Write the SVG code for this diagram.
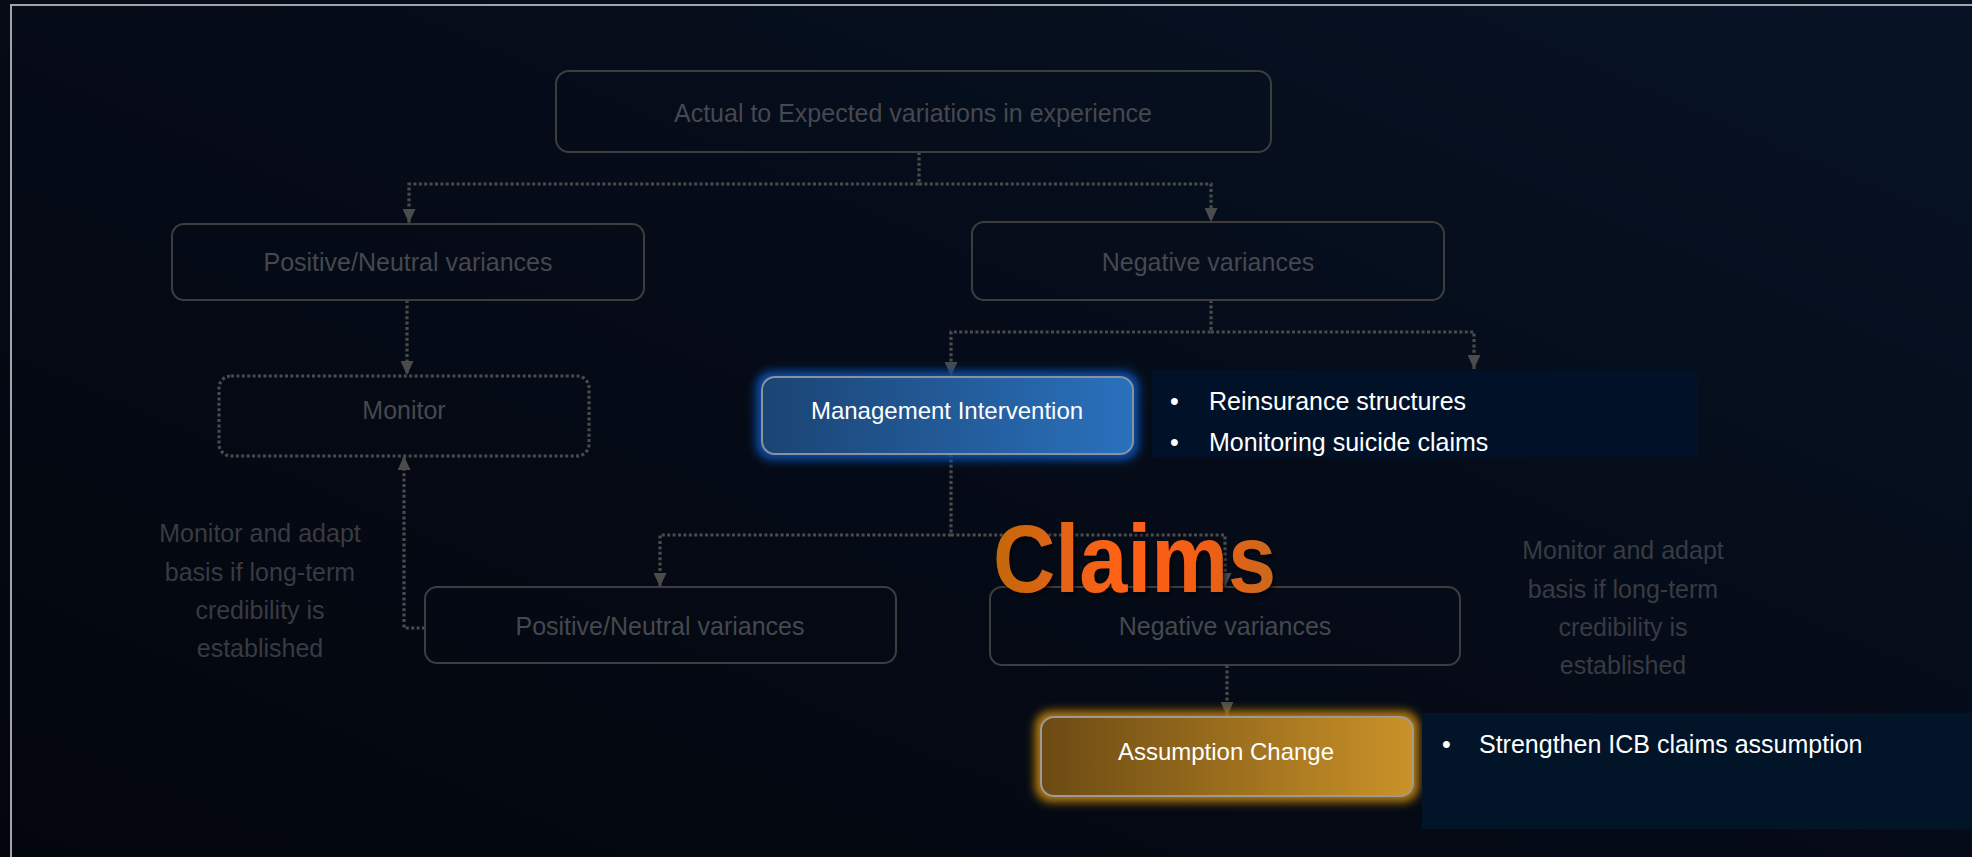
<svg xmlns="http://www.w3.org/2000/svg" width="1972" height="857" viewBox="0 0 1972 857">
<defs>
  <linearGradient id="bg" x1="0" y1="1" x2="1" y2="0">
    <stop offset="0" stop-color="#03060d"/>
    <stop offset="0.5" stop-color="#050b17"/>
    <stop offset="1" stop-color="#071325"/>
  </linearGradient>
  <linearGradient id="blueFill" x1="0" y1="0" x2="1" y2="0">
    <stop offset="0" stop-color="#1b4473"/>
    <stop offset="1" stop-color="#2a71bd"/>
  </linearGradient>
  <linearGradient id="goldFill" x1="0" y1="0" x2="1" y2="0">
    <stop offset="0" stop-color="#6b4a13"/>
    <stop offset="1" stop-color="#cb9228"/>
  </linearGradient>
  <linearGradient id="claimsFill" x1="0" y1="0" x2="1" y2="0">
    <stop offset="0" stop-color="#c2670f"/>
    <stop offset="0.45" stop-color="#ff6216"/>
    <stop offset="0.75" stop-color="#f25d16"/>
    <stop offset="1" stop-color="#c76a1c"/>
  </linearGradient>
  <filter id="glow" x="-20%" y="-60%" width="140%" height="220%">
    <feGaussianBlur stdDeviation="5"/>
  </filter>
  <filter id="shadow" x="-10%" y="-20%" width="120%" height="140%">
    <feDropShadow dx="2" dy="3" stdDeviation="2" flood-color="#000000" flood-opacity="0.7"/>
  </filter>
  <marker id="arrow" viewBox="0 0 14 13" refX="14" refY="6.5" markerWidth="14" markerHeight="13" markerUnits="userSpaceOnUse" orient="auto">
    <path d="M0,0 L14,6.5 L0,13 z" fill="#4b4b4b"/>
  </marker>
  <style>
    .box { fill: none; stroke: #3d3d3f; stroke-width: 2; }
    .dotbox { fill: none; stroke: #4a4a4c; stroke-width: 3.2; stroke-dasharray: 3 2.4; }
    .conn { fill: none; stroke: #4b4b4b; stroke-width: 3.2; stroke-dasharray: 3 2.4; }
    .gl { font-family: "Liberation Sans", Arial, sans-serif; font-size: 25px; fill: #45484e; text-anchor: middle; }
    .note { font-family: "Liberation Sans", Arial, sans-serif; font-size: 25px; fill: #383b42; text-anchor: middle; }
    .wl { font-family: "Liberation Sans", Arial, sans-serif; font-size: 24px; fill: #ffffff; text-anchor: middle; }
    .bt { font-family: "Liberation Sans", Arial, sans-serif; font-size: 25px; fill: #ffffff; }
  </style>
</defs>

<rect x="0" y="0" width="1972" height="857" fill="url(#bg)"/>
<path d="M1972,5 H11 V857" fill="none" stroke="#a2a4a8" stroke-width="2"/>

<g id="connectors">
  <path class="conn" d="M919,152 V184 H409 V223" marker-end="url(#arrow)"/>
  <path class="conn" d="M919,184 H1211 V222" marker-end="url(#arrow)"/>
  <path class="conn" d="M407,300 V375" marker-end="url(#arrow)"/>
  <path class="conn" d="M1211,300 V332 H951 V376" marker-end="url(#arrow)"/>
  <path class="conn" d="M1211,332 H1474 V369" marker-end="url(#arrow)"/>
  <path class="conn" d="M425,628 H404 V456" marker-end="url(#arrow)"/>
  <path class="conn" d="M951,454 V535 H660 V587" marker-end="url(#arrow)"/>
  <path class="conn" d="M951,535 H1225 V587" marker-end="url(#arrow)"/>
  <path class="conn" d="M1227,665 V716" marker-end="url(#arrow)"/>
</g>

<g id="node-actual">
  <rect class="box" x="556" y="71" width="715" height="81" rx="13"/>
  <text class="gl" x="913" y="122">Actual to Expected variations in experience</text>
</g>

<g id="node-pos1">
  <rect class="box" x="172" y="224" width="472" height="76" rx="12"/>
  <text class="gl" x="408" y="271">Positive/Neutral variances</text>
</g>

<g id="node-neg1">
  <rect class="box" x="972" y="222" width="472" height="78" rx="12"/>
  <text class="gl" x="1208" y="271">Negative variances</text>
</g>

<g id="node-monitor">
  <rect class="dotbox" x="219" y="376" width="370" height="80" rx="12"/>
  <text class="gl" x="404" y="419">Monitor</text>
</g>

<g id="node-mgmt">
  <rect x="756" y="371" width="383" height="89" rx="16" fill="#0a4ea8" filter="url(#glow)"/>
  <rect x="762" y="377" width="371" height="77" rx="13" fill="url(#blueFill)" stroke="#8a929c" stroke-width="2"/>
  <text class="wl" x="947" y="419" font-size="25">Management Intervention</text>
</g>

<g id="panel-mgmt">
  <rect x="1152" y="370" width="546" height="87" fill="#011228"/>
  <text class="bt" x="1170" y="410">•</text>
  <text class="bt" x="1209" y="410">Reinsurance structures</text>
  <text class="bt" x="1170" y="451">•</text>
  <text class="bt" x="1209" y="451">Monitoring suicide claims</text>
</g>

<g id="note-left">
  <text class="note" x="260" y="542">Monitor and adapt</text>
  <text class="note" x="260" y="581">basis if long-term</text>
  <text class="note" x="260" y="619">credibility is</text>
  <text class="note" x="260" y="657">established</text>
</g>

<g id="node-pos2">
  <rect class="box" x="425" y="587" width="471" height="76" rx="12"/>
  <text class="gl" x="660" y="635">Positive/Neutral variances</text>
</g>

<g id="node-neg2">
  <rect class="box" x="990" y="587" width="470" height="78" rx="12"/>
  <text class="gl" x="1225" y="635">Negative variances</text>
</g>

<g id="note-right">
  <text class="note" x="1623" y="559">Monitor and adapt</text>
  <text class="note" x="1623" y="598">basis if long-term</text>
  <text class="note" x="1623" y="636">credibility is</text>
  <text class="note" x="1623" y="674">established</text>
</g>

<g id="title-claims">
  <text x="993" y="592" font-family="Liberation Sans, Arial, sans-serif" font-weight="bold" font-size="96" fill="url(#claimsFill)" textLength="283" lengthAdjust="spacingAndGlyphs" filter="url(#shadow)">Claims</text>
</g>

<g id="node-assumption">
  <rect x="1035" y="711" width="384" height="91" rx="16" fill="#b57a0c" filter="url(#glow)"/>
  <rect x="1041" y="717" width="372" height="79" rx="13" fill="url(#goldFill)" stroke="#9c9a96" stroke-width="2"/>
  <text class="wl" x="1226" y="760">Assumption Change</text>
</g>

<g id="panel-assumption">
  <rect x="1422" y="713" width="550" height="116" fill="#011428"/>
  <text class="bt" x="1442" y="753">•</text>
  <text class="bt" x="1479" y="753">Strengthen ICB claims assumption</text>
</g>
</svg>
